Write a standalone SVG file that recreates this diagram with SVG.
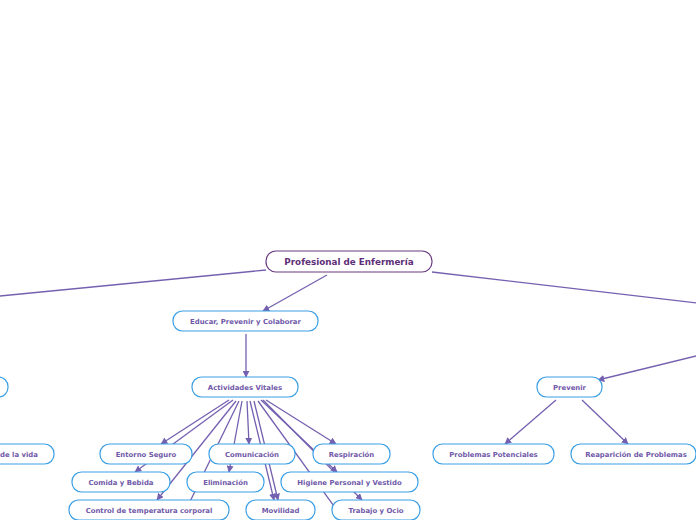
<svg xmlns="http://www.w3.org/2000/svg" width="696" height="520" viewBox="0 0 696 520">
<defs>
<marker id="arr" viewBox="0 0 10 10" refX="9" refY="5" markerWidth="7" markerHeight="7" markerUnits="userSpaceOnUse" orient="auto">
<path d="M0,0 L10,5 L0,10 z" fill="#7560b0"/>
</marker>
<style>
.c{stroke:#7560b0;stroke-width:1.3;fill:none}
.a{marker-end:url(#arr)}
.n rect{fill:#ffffff;stroke:#3a9fe4;stroke-width:1.2}
.n text{font-family:"DejaVu Sans",Verdana,sans-serif;font-weight:bold;font-size:6.9px;fill:#7058a8;text-anchor:middle}
.r rect{fill:#ffffff;stroke:#6a3a80;stroke-width:1.2}
.r text{font-family:"DejaVu Sans",Verdana,sans-serif;font-weight:bold;font-size:8.8px;fill:#5e2f78;text-anchor:middle}
</style>
</defs>
<rect width="696" height="520" fill="#ffffff"/>
<g id="connectors">
<line class="c" x1="266" y1="270" x2="-10" y2="297"/>
<line class="c" x1="432" y1="272" x2="706" y2="304"/>
<line class="c a" x1="327" y1="275" x2="263" y2="311"/>
<line class="c a" x1="246" y1="334" x2="246" y2="377"/>
<line class="c a" x1="700" y1="355" x2="598" y2="380"/>
<line class="c a" x1="556" y1="400" x2="505" y2="444"/>
<line class="c a" x1="582" y1="400" x2="628" y2="444"/>
<line class="c a" x1="229" y1="400" x2="161" y2="444"/>
<line class="c a" x1="233" y1="400" x2="135" y2="472"/>
<line class="c a" x1="236" y1="401" x2="157" y2="500"/>
<line class="c" x1="239" y1="401" x2="181" y2="520"/>
<line class="c a" x1="242" y1="401" x2="229" y2="472"/>
<line class="c a" x1="247" y1="401" x2="249" y2="444"/>
<line class="c a" x1="250" y1="401" x2="274" y2="500"/>
<line class="c a" x1="254" y1="401" x2="278" y2="500"/>
<line class="c" x1="258" y1="401" x2="344" y2="520"/>
<line class="c a" x1="261" y1="400" x2="337" y2="472"/>
<line class="c a" x1="263" y1="400" x2="362" y2="500"/>
<line class="c a" x1="266" y1="400" x2="336" y2="444"/>
</g>
<g id="root" class="r"><rect x="266" y="251" width="166" height="21" rx="10"/><text x="349" y="264.6">Profesional de Enfermería</text></g>
<g id="educar" class="n"><rect x="173" y="311" width="145" height="20" rx="9.5"/><text x="245.5" y="323.5">Educar, Prevenir y Colaborar</text></g>
<g id="left1" class="n"><rect x="-60" y="377" width="68" height="20" rx="9.5"/></g>
<g id="vida" class="n"><rect x="-60" y="444" width="114" height="20" rx="9.5"/><text x="19" y="456.5">de la vida</text></g>
<g id="actividades" class="n"><rect x="192" y="377" width="106" height="20" rx="9.5"/><text x="245" y="389.5">Actividades Vitales</text></g>
<g id="prevenir" class="n"><rect x="537" y="377" width="65" height="20" rx="9.5"/><text x="569.5" y="389.5">Prevenir</text></g>
<g id="potenciales" class="n"><rect x="433" y="444" width="121" height="20" rx="9.5"/><text x="493.5" y="456.5">Problemas Potenciales</text></g>
<g id="reaparicion" class="n"><rect x="571" y="444" width="125" height="20" rx="9.5"/><text x="636" y="456.5">Reaparición de Problemas</text></g>
<g id="entorno" class="n"><rect x="100" y="444" width="92" height="20" rx="9.5"/><text x="146" y="456.5">Entorno Seguro</text></g>
<g id="comunicacion" class="n"><rect x="209" y="444" width="86" height="20" rx="9.5"/><text x="252" y="456.5">Comunicación</text></g>
<g id="respiracion" class="n"><rect x="313" y="444" width="77" height="20" rx="9.5"/><text x="351.5" y="456.5">Respiración</text></g>
<g id="comida" class="n"><rect x="72" y="472" width="98" height="20" rx="9.5"/><text x="121" y="484.5">Comida y Bebida</text></g>
<g id="eliminacion" class="n"><rect x="187" y="472" width="77" height="20" rx="9.5"/><text x="225.5" y="484.5">Eliminación</text></g>
<g id="higiene" class="n"><rect x="281" y="472" width="137" height="20" rx="9.5"/><text x="349.5" y="484.5">Higiene Personal y Vestido</text></g>
<g id="control" class="n"><rect x="69" y="500" width="160" height="20" rx="9.5"/><text x="149" y="512.5">Control de temperatura corporal</text></g>
<g id="movilidad" class="n"><rect x="246" y="500" width="69" height="20" rx="9.5"/><text x="280.5" y="512.5">Movilidad</text></g>
<g id="trabajo" class="n"><rect x="332" y="500" width="88" height="20" rx="9.5"/><text x="376" y="512.5">Trabajo y Ocio</text></g>
</svg>
